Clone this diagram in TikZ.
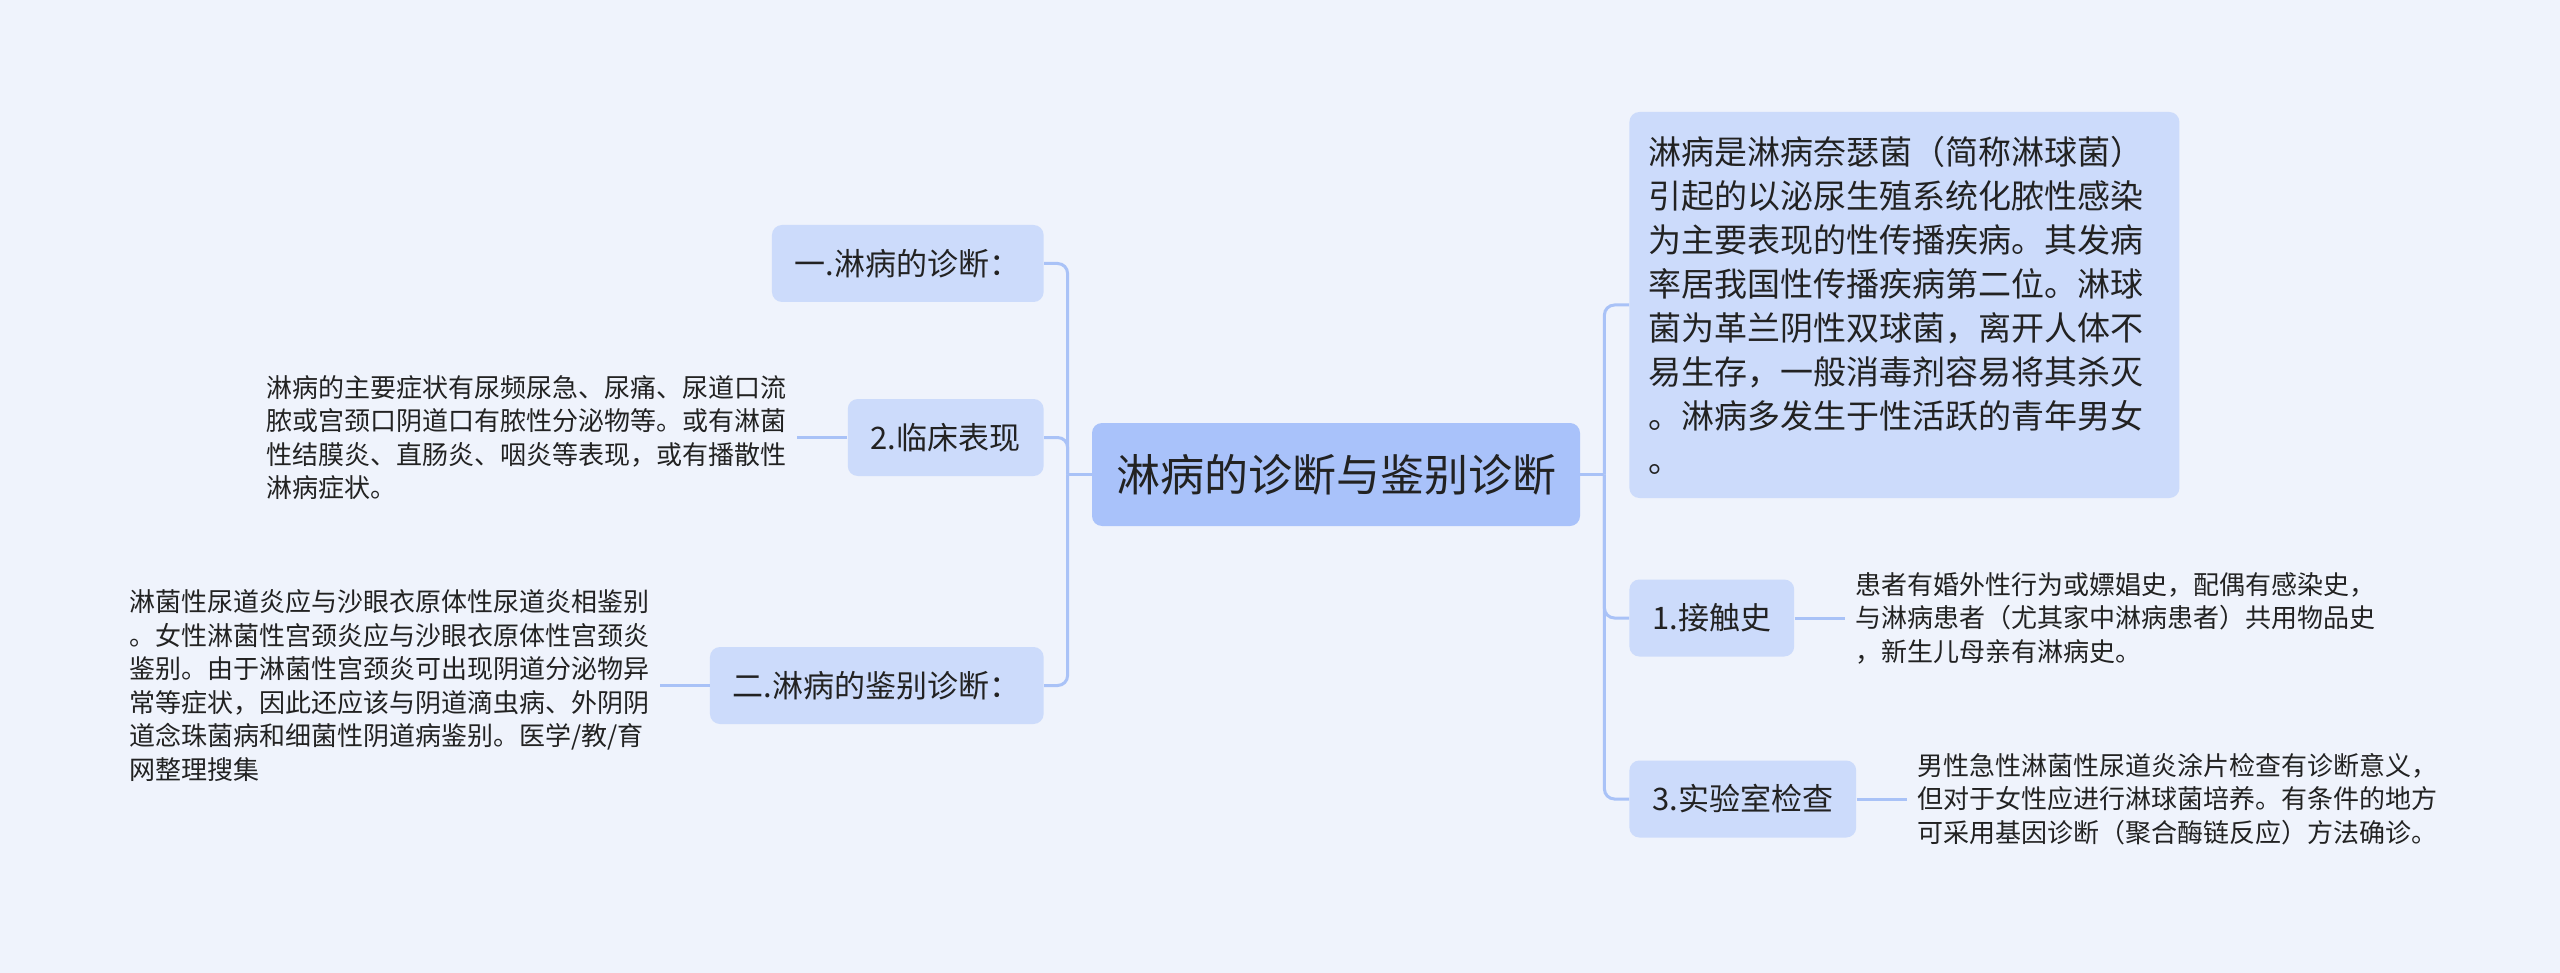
\documentclass[tikz,border=0pt]{standalone}
\usepackage{fontspec}
\setmainfont{Noto Sans CJK SC}
\usepackage{xcolor}
\usepackage{tikz}
\usetikzlibrary{positioning}

\definecolor{bgcol}{HTML}{EFF3FC}
\definecolor{rootcol}{HTML}{A9C2FA}
\definecolor{boxcol}{HTML}{CCDBFB}
\definecolor{linkcol}{HTML}{A9C2F7}
\definecolor{textcol}{HTML}{222222}

\begin{document}
\begin{tikzpicture}[
    x=0.5pt, y=-0.5pt,
    node distance=25pt,
    every node/.style={text=textcol},
    rootbox/.style={
        rectangle,
        rounded corners=5pt,
        fill=rootcol,
        font=\fontsize{22}{26}\selectfont,
        inner xsep=12pt,
        minimum height=51.5pt
    },
    topicbox/.style={
        rectangle,
        rounded corners=5pt,
        fill=boxcol,
        font=\fontsize{15.5}{19}\selectfont,
        inner xsep=11.5pt,
        minimum height=38.5pt
    },
    introbox/.style={
        rectangle,
        rounded corners=5pt,
        fill=boxcol,
        align=left,
        text width=256pt,
        font=\fontsize{16.5}{22}\selectfont,
        inner xsep=9.5pt,
        minimum height=193pt
    },
    leaftext/.style={
        align=left,
        inner sep=5pt,
        font=\fontsize{13}{16.75}\selectfont
    },
    link/.style={draw=linkcol, line width=1.5pt},
    branchlink/.style={link, rounded corners=5pt}
]

\fill[bgcol] (0,0) rectangle (2560,973);
\useasboundingbox (0,0) rectangle (2560,973);

\node[rootbox] (root) at (1336,474.5) {淋病的诊断与鉴别诊断};

\node[topicbox, anchor=east] (diagnosis) at (1044,263.5) {一.淋病的诊断：};
\node[topicbox, anchor=east] (clinical) at (1044,437.5) {2.临床表现};
\node[topicbox, anchor=east] (differential) at (1044,685.5) {二.淋病的鉴别诊断：};

\node[introbox, anchor=west] (intro) at (1629,305) {
    淋病是淋病奈瑟菌（简称淋球菌）\\
    引起的以泌尿生殖系统化脓性感染\\
    为主要表现的性传播疾病。其发病\\
    率居我国性传播疾病第二位。淋球\\
    菌为革兰阴性双球菌，离开人体不\\
    易生存，一般消毒剂容易将其杀灭\\
    。淋病多发生于性活跃的青年男女\\
    。
};
\node[topicbox, anchor=west] (contact) at (1629,618) {1.接触史};
\node[topicbox, anchor=west] (lab) at (1629,799) {3.实验室检查};

\node[leaftext, left=of clinical] (clinicaltext) {
    淋病的主要症状有尿频尿急、尿痛、尿道口流\\
    脓或宫颈口阴道口有脓性分泌物等。或有淋菌\\
    性结膜炎、直肠炎、咽炎等表现，或有播散性\\
    淋病症状。
};
\node[leaftext, left=of differential] (differentialtext) {
    淋菌性尿道炎应与沙眼衣原体性尿道炎相鉴别\\
    。女性淋菌性宫颈炎应与沙眼衣原体性宫颈炎\\
    鉴别。由于淋菌性宫颈炎可出现阴道分泌物异\\
    常等症状，因此还应该与阴道滴虫病、外阴阴\\
    道念珠菌病和细菌性阴道病鉴别。医学/教/育\\
    网整理搜集
};
\node[leaftext, right=of contact] (contacttext) {
    患者有婚外性行为或嫖娼史，配偶有感染史，\\
    与淋病患者（尤其家中淋病患者）共用物品史\\
    ，新生儿母亲有淋病史。
};
\node[leaftext, right=of lab] (labtext) {
    男性急性淋菌性尿道炎涂片检查有诊断意义，\\
    但对于女性应进行淋球菌培养。有条件的地方\\
    可采用基因诊断（聚合酶链反应）方法确诊。
};

\draw[link] (root.west) -- ++(-24,0) coordinate (leftjoin);
\draw[branchlink] (leftjoin) |- (diagnosis.east);
\draw[branchlink] (leftjoin) |- (clinical.east);
\draw[branchlink] (leftjoin) |- (differential.east);

\draw[link] (root.east) -- ++(24,0) coordinate (rightjoin);
\draw[branchlink] (rightjoin) |- (intro.west);
\draw[branchlink] (rightjoin) |- (contact.west);
\draw[branchlink] (rightjoin) |- (lab.west);

\draw[link] (clinical.west) -- (clinicaltext.east);
\draw[link] (differential.west) -- (differentialtext.east);
\draw[link] (contact.east) -- (contacttext.west);
\draw[link] (lab.east) -- (labtext.west);

\end{tikzpicture}
\end{document}
